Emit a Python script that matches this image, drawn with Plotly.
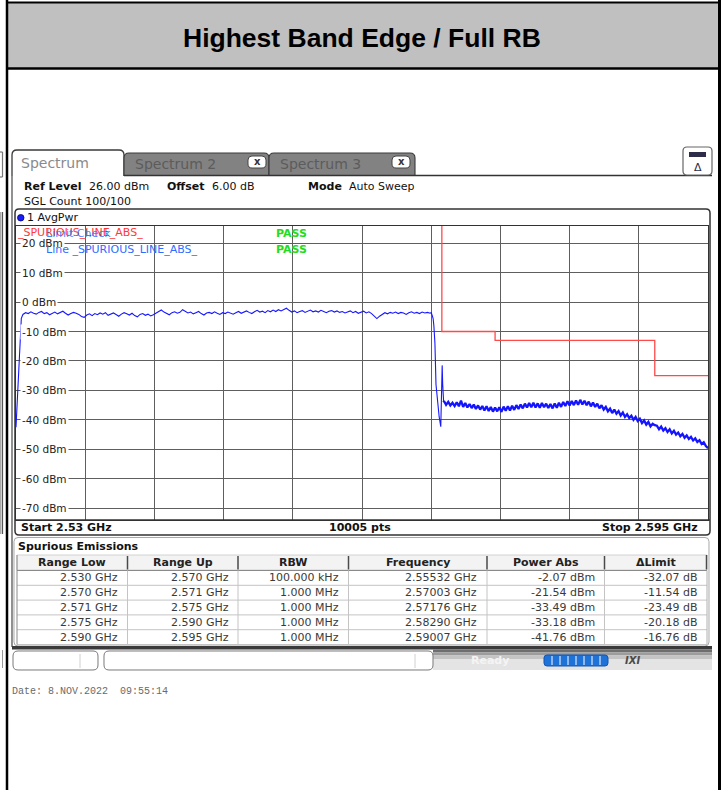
import plotly.graph_objects as go

W, H = 722, 790

# ---------------- data ----------------
f_start, f_stop = 2.530, 2.595
y_top, y_bottom = 26, -74
y_tick_vals = [20, 10, 0, -10, -20, -30, -40, -50, -60, -70]
y_tick_text = ["20 dBm", "10 dBm", "0 dBm", "-10 dBm", "-20 dBm", "-30 dBm",
               "-40 dBm", "-50 dBm", "-60 dBm", "-70 dBm"]

# trace rising edge at start of sweep
rise_freq = [2.53000, 2.53012, 2.53025, 2.53038, 2.53050]
rise_dbm = [-42.5, -33.0, -22.0, -12.0, -5.5]

# in-band noise (sweep points)
inband_f0 = 2.53065
inband_step = 0.00025
inband_dbm = [
    -4.2, -3.6, -3.9, -3.3, -3.8, -4.1, -3.5, -3.2, -3.9, -3.6,
    -4.3, -3.7, -3.4, -4.0, -3.6, -3.1, -3.8, -4.4, -3.9, -3.5,
    -3.8, -4.2, -4.9, -5.2, -4.4, -4.0, -4.6, -3.9, -4.3, -3.7,
    -4.1, -3.6, -4.5, -4.0, -3.7, -4.2, -4.8, -4.1, -3.6, -4.0,
    -4.4, -3.8, -4.6, -5.0, -4.2, -3.9, -4.5, -4.1, -4.7, -4.3,
    -3.8, -3.2, -2.7, -3.4, -3.9, -4.3, -3.6, -3.3, -3.8, -3.5,
    -2.6, -3.1, -3.7, -3.4, -4.0, -3.6, -3.2, -3.9, -4.4, -3.7,
    -3.5, -3.9, -3.3, -3.8, -4.2, -3.6, -3.9, -3.4, -3.7, -4.1,
    -3.6, -3.2, -3.8, -3.4, -3.0, -3.5, -3.9, -3.3, -2.8, -3.4,
    -3.1, -3.6, -2.9, -3.3, -2.7, -3.2, -2.6, -3.0, -2.5, -2.1,
    -2.8, -3.4, -3.0, -3.6, -3.2, -2.9, -3.5, -3.1, -2.7, -3.3,
    -3.0, -3.4, -2.8, -3.2, -3.6, -3.1, -2.9, -3.4, -3.0, -3.5,
    -3.2, -3.7, -3.3, -3.0, -3.6, -3.2, -3.8, -3.4, -3.1, -3.7,
    -3.3, -3.9, -4.6, -5.6, -4.8, -4.1, -3.6, -4.0, -3.5, -3.8,
    -3.4, -3.9, -3.5, -3.7, -4.2, -3.6, -3.3, -3.8, -3.5, -3.9,
    -3.4, -3.7, -3.5, -3.8,
]

# band edge fall, dip and spike
edge_freq = [2.56900, 2.56910, 2.56918, 2.56925, 2.56935, 2.56945, 2.56960,
             2.56975, 2.56990, 2.56996, 2.57003, 2.57008, 2.57013, 2.57017]
edge_dbm = [-3.6, -4.6, -5.6, -8.0, -14.0, -28.0, -34.0,
            -39.0, -42.3, -35.0, -21.5, -28.0, -32.5, -34.0]

# out-of-band emission (sweep points)
oob_f0 = 2.5702
oob_step = 0.0002
oob_dbm = [
    -33.6, -34.9, -33.9, -35.1, -34.2, -35.3, -34.0, -35.4, -33.5, -35.6,
    -34.3, -35.8, -34.6, -36.0, -34.8, -36.3, -35.1, -36.5, -35.3, -36.8,
    -35.4, -37.0, -35.6, -37.2, -35.8, -37.1, -35.7, -37.3, -35.5, -36.9,
    -35.4, -36.8, -35.2, -36.6, -35.0, -36.3, -34.8, -36.1, -34.5, -35.8,
    -34.3, -35.7, -34.2, -35.8, -34.4, -35.9, -34.3, -35.7, -34.5, -36.0,
    -34.6, -36.1, -34.4, -35.9, -34.2, -35.6, -33.9, -35.3, -33.7, -35.1,
    -33.6, -35.0, -33.4, -34.9, -33.2, -34.8, -33.5, -35.0, -33.8, -35.4,
    -34.1, -35.6, -34.5, -36.1, -35.0, -36.5, -35.6, -37.1, -36.2, -37.7,
    -36.5, -37.9, -37.0, -38.5, -37.5, -39.0, -38.1, -39.4, -38.6, -40.0,
    -39.0, -40.4, -39.6, -41.1, -40.2, -41.6, -40.7, -42.2, -41.3, -41.8,
    -42.0, -43.2, -42.3, -43.6, -42.8, -44.1, -43.2, -44.6, -43.7, -45.0,
    -44.3, -45.6, -44.8, -46.1, -45.3, -46.5, -45.8, -47.0, -46.3, -47.5,
    -46.9, -48.2, -47.6, -48.9, -49.6,
]

# limit line _SPURIOUS_LINE_ABS_
limit_freq = [2.530, 2.570, 2.570, 2.575, 2.575, 2.590, 2.590, 2.595]
limit_dbm = [30, 30, -10, -10, -13, -13, -25, -25]

# spurious emissions table
tbl_headers = ["Range Low", "Range Up", "RBW", "Frequency", "Power Abs", "\u0394Limit"]
range_low = ["2.530 GHz", "2.570 GHz", "2.571 GHz", "2.575 GHz", "2.590 GHz"]
range_up = ["2.570 GHz", "2.571 GHz", "2.575 GHz", "2.590 GHz", "2.595 GHz"]
rbw = ["100.000 kHz", "1.000 MHz", "1.000 MHz", "1.000 MHz", "1.000 MHz"]
peak_freq = ["2.55532 GHz", "2.57003 GHz", "2.57176 GHz", "2.58290 GHz", "2.59007 GHz"]
power_abs = ["-2.07 dBm", "-21.54 dBm", "-33.49 dBm", "-33.18 dBm", "-41.76 dBm"]
delta_limit = ["-32.07 dB", "-11.54 dB", "-23.49 dB", "-20.18 dB", "-16.76 dB"]

# ---------------- helpers ----------------
def px(x):
    return x / W

def py(y):
    return 1 - y / H

shapes = []
annos = []
UI = "DejaVu Sans"


def rect(x0, y0, x1, y1, fill=None, lc=None, lw=0, layer="above"):
    shapes.append(dict(type="rect", xref="paper", yref="paper",
                       x0=px(x0), x1=px(x1), y0=py(y1), y1=py(y0),
                       fillcolor=fill if fill else "rgba(0,0,0,0)",
                       line=dict(color=lc if lc else "rgba(0,0,0,0)", width=lw),
                       layer=layer))


def line(x0, y0, x1, y1, color, width=1, layer="above"):
    shapes.append(dict(type="line", xref="paper", yref="paper",
                       x0=px(x0), x1=px(x1), y0=py(y0), y1=py(y1),
                       line=dict(color=color, width=width), layer=layer))


def rrect(x0, y0, x1, y1, r, lc, fill=None, lw=1, top_only=False, layer="above"):
    P = lambda x, y: f"{px(x):.5f},{py(y):.5f}"
    if top_only:
        d = (f"M {P(x0, y1)} L {P(x0, y0 + r)} Q {P(x0, y0)} {P(x0 + r, y0)} "
             f"L {P(x1 - r, y0)} Q {P(x1, y0)} {P(x1, y0 + r)} L {P(x1, y1)}")
    else:
        d = (f"M {P(x0 + r, y0)} L {P(x1 - r, y0)} Q {P(x1, y0)} {P(x1, y0 + r)} "
             f"L {P(x1, y1 - r)} Q {P(x1, y1)} {P(x1 - r, y1)} L {P(x0 + r, y1)} "
             f"Q {P(x0, y1)} {P(x0, y1 - r)} L {P(x0, y0 + r)} Q {P(x0, y0)} {P(x0 + r, y0)} Z")
    shapes.append(dict(type="path", xref="paper", yref="paper", path=d,
                       fillcolor=fill if fill else "rgba(0,0,0,0)",
                       line=dict(color=lc, width=lw), layer=layer))


def text(x, y, s, size=11, color="#222", anchor="left", family=UI, bg=None):
    a = dict(x=px(x), y=py(y), xref="paper", yref="paper", text=s, showarrow=False,
             xanchor=anchor, yanchor="middle",
             font=dict(size=size, color=color, family=family), borderpad=0)
    if bg:
        a["bgcolor"] = bg
    annos.append(a)


# ---------------- document frame & header ----------------
rect(7, 3, 719, 68, fill="#c0c0c0", layer="below")
line(7, 2.5, 720, 2.5, "#000", 2)
line(7, 68.5, 720, 68.5, "#000", 2.5)
line(7, 0, 7, 790, "#000", 2.5)
line(719.5, 0, 719.5, 790, "#000", 3)
text(362, 38, "<b>Highest Band Edge / Full RB</b>", size=26.5, color="#000",
     anchor="center", family="Liberation Sans")

# neighbouring screenshot remnants on far left
line(2.5, 152, 2.5, 177, "#777", 1.2)
line(0, 152, 2.5, 152, "#777", 1.2)
line(0, 177, 2.5, 177, "#777", 1.2)
line(2.5, 212, 2.5, 534, "#555", 1.2)
line(0.8, 212, 0.8, 534, "#888", 1)
line(2.5, 650, 2.5, 668, "#999", 1)

# ---------------- analyzer window ----------------
# tabs
rrect(12, 150, 124, 176, 5, "#3a3a3a", fill="white", lw=1.3, top_only=True)
rrect(124, 153, 269, 176, 5, "#3a3a3a", fill="#828282", lw=1.1, top_only=True)
rrect(269, 153, 415, 176, 5, "#3a3a3a", fill="#828282", lw=1.1, top_only=True)
text(20, 163, "Spectrum", size=14, color="#8a8a8a")
text(134, 164, "Spectrum 2", size=14, color="#5c5c5c")
text(279, 164, "Spectrum 3", size=14, color="#5c5c5c")
for bx in (248, 392):
    rrect(bx, 156, bx + 18, 168, 4, "#444", fill="white", lw=1)
    text(bx + 9, 161.5, "<b>x</b>", size=10, color="#333", anchor="center")
line(124, 175.5, 712, 175.5, "#333", 1.5)
line(12, 176, 12, 647, "#555", 1.3)
# right-hand toolbar icon
rrect(683, 147, 712, 175, 4, "#666", fill="white", lw=1.2)
rect(689, 152, 706, 157, fill="#2d2d4a")
text(697.5, 167, "\u0394", size=11, color="#2d2d4a", anchor="center")

# info lines
text(23, 186, "<b>Ref Level</b>", size=11, color="#111")
text(88, 186, "26.00 dBm", size=11, color="#111")
text(166, 186, "<b>Offset</b>", size=11, color="#111")
text(211, 186, "6.00 dB", size=11, color="#111")
text(307, 186, "<b>Mode</b>", size=11, color="#111")
text(348, 186, "Auto Sweep", size=11, color="#111")
text(23, 201, "SGL Count 100/100", size=11, color="#111")

# trace box
rrect(15, 209, 710, 535, 4, "#333", lw=1.5)
shapes.append(dict(type="circle", xref="paper", yref="paper",
                   x0=px(17.5), x1=px(24), y0=py(221), y1=py(214.5),
                   fillcolor="#1a1aff", line=dict(color="#000066", width=0.8)))
text(26, 217.5, "1 AvgPwr", size=11, color="#111")
line(15, 520, 710, 520, "#333", 1.3)
text(20, 527.5, "<b>Start 2.53 GHz</b>", size=11, color="#111")
text(360, 527.5, "<b>10005 pts</b>", size=11, color="#111", anchor="center")
text(699, 527.5, "<b>Stop 2.595 GHz</b>", size=11, color="#111", anchor="right")

# y tick labels (inside plot, on white)
for v, s in zip(y_tick_vals, y_tick_text):
    annos.append(dict(x=px(20), y=v, xref="paper", yref="y", text=s, showarrow=False,
                      xanchor="left", yanchor="middle", bgcolor="white", borderpad=1,
                      font=dict(size=10.5, color="#222", family=UI)))

# limit-check legend texts
text(16, 232.5, "_SPURIOUS_LINE_ABS_", size=11, color="#ff3a3a")
text(45, 233.5, "Limit Check", size=11, color="rgba(40,110,255,0.85)")
text(45, 249, "Line _SPURIOUS_LINE_ABS_", size=11, color="#2f6dff")
text(275, 233, "<b>PASS</b>", size=11, color="#1fdc1f")
text(275, 249, "<b>PASS</b>", size=11, color="#1fdc1f")

# ---------------- table ----------------
rrect(14, 537.5, 709, 646, 4, "#a8a8a8", fill="white", lw=1)
text(16.5, 546, "<b>Spurious Emissions</b>", size=11, color="#111")
col_x = [17, 127.5, 238, 348.5, 487, 604.5, 707]
rect(17, 555, 707, 570, fill="#f3f3f3", lc="#c8c8c8", lw=0.8)
row_top = 570.5
row_h = 14.8
for i in range(1, 6):
    yy = row_top + i * row_h
    line(17, yy, 707, yy, "#c4c4c4", 1)
line(17, row_top, 707, row_top, "#8a8a8a", 1.2)
for cx in col_x[1:-1]:
    line(cx, 556, cx, 569.5, "#4a4a4a", 1.5)
    line(cx, row_top, cx, row_top + 5 * row_h, "#c4c4c4", 1)
line(17, 555, 17, row_top + 5 * row_h, "#8a8a8a", 1)
line(706.5, 555, 706.5, 569.5, "#4a4a4a", 1.5)
line(707, row_top, 707, row_top + 5 * row_h, "#b0b0b0", 1)
for j, hname in enumerate(tbl_headers):
    text((col_x[j] + col_x[j + 1]) / 2, 562.5, f"<b>{hname}</b>", size=11,
         color="#222", anchor="center")
columns = [range_low, range_up, rbw, peak_freq, power_abs, delta_limit]
for j, col in enumerate(columns):
    for i, val in enumerate(col):
        text(col_x[j + 1] - 8.5, row_top + (i + 0.5) * row_h, val, size=11,
             color="#3a3a3a", anchor="right")

# ---------------- status bar ----------------
rect(12, 646, 712, 649.5, fill="#3a3a3a")
rect(433, 649.5, 712, 652.5, fill="#6e6e6e")
rect(433, 652.5, 712, 655.5, fill="#9c9c9c")
rect(433, 655.5, 712, 659, fill="#c4c4c4")
rect(433, 659, 712, 670, fill="#e4e4e4")
rrect(13, 651, 98, 670, 5, "#7a7a7a", fill="white", lw=1)
line(80, 654, 80, 668, "#d0d0d0", 1)
rrect(104, 651, 433, 670, 5, "#7a7a7a", fill="white", lw=1)
line(415, 654, 415, 668, "#d0d0d0", 1)
text(490, 660, "<b>Ready</b>", size=11, color="#f4f4f4", anchor="center")
rrect(544, 655, 608, 666, 3, "#1456b0", fill="#1f72d8", lw=1)
for sx in (552, 560, 568, 576, 584, 592, 600):
    line(sx, 656, sx, 665, "white", 1)
text(632, 660.5, "<b><i>IXI</i></b>", size=10, color="#4a4a4a", anchor="center")

# date
text(11, 691, "Date: 8.NOV.2022  09:55:14", size=10, color="#6a6a6a",
     family="Liberation Mono")

# ---------------- traces ----------------
inband_freq = [inband_f0 + i * inband_step for i in range(len(inband_dbm))]
oob_freq = [oob_f0 + i * oob_step for i in range(len(oob_dbm))]

fig = go.Figure()
fig.add_trace(go.Scatter(x=limit_freq, y=limit_dbm, mode="lines",
                         line=dict(color="#ff4a4a", width=1.3), hoverinfo="skip"))
fig.add_trace(go.Scatter(x=rise_freq + inband_freq + edge_freq,
                         y=rise_dbm + inband_dbm + edge_dbm, mode="lines",
                         line=dict(color="#1818ff", width=1.1), hoverinfo="skip"))
fig.add_trace(go.Scatter(x=[edge_freq[-1]] + oob_freq, y=[edge_dbm[-1]] + oob_dbm,
                         mode="lines", line=dict(color="#1414ff", width=2.3),
                         hoverinfo="skip"))

fig.update_layout(
    width=W, height=H, margin=dict(l=0, r=0, t=0, b=0),
    paper_bgcolor="white", plot_bgcolor="white", showlegend=False,
    font=dict(family=UI),
    xaxis=dict(domain=[px(16), px(708)], range=[f_start, f_stop],
               tick0=f_start, dtick=(f_stop - f_start) / 10,
               showgrid=True, gridcolor="#5e5e5e", gridwidth=1,
               showticklabels=False, ticks="", zeroline=False,
               showline=True, linecolor="#333", linewidth=1, mirror=True),
    yaxis=dict(domain=[py(520), py(225.5)], range=[y_bottom, y_top],
               tick0=0, dtick=10, showgrid=True, gridcolor="#5e5e5e", gridwidth=1,
               showticklabels=False, ticks="", zeroline=False,
               showline=True, linecolor="#333", linewidth=1, mirror=True),
    shapes=shapes, annotations=annos,
)

fig.write_html("out.html",
               config={"displayModeBar": False},
               post_script="document.body.style.margin='0';"
                           "document.body.style.overflow='hidden';")
